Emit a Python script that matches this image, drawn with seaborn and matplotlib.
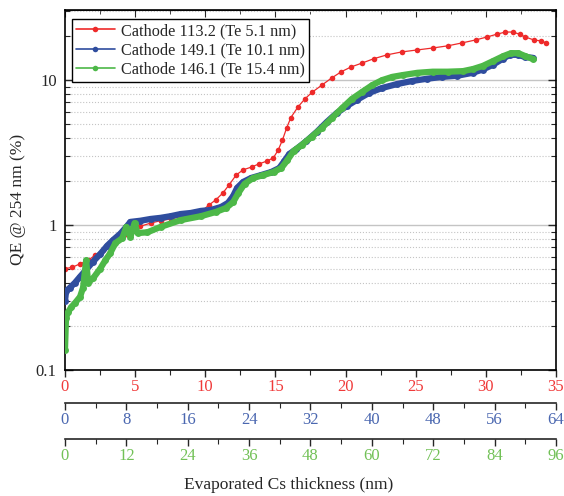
import numpy as np
import matplotlib
matplotlib.use('Agg')
import matplotlib.pyplot as plt
import seaborn as sns
from matplotlib.ticker import LogLocator, NullFormatter, MultipleLocator, FuncFormatter

# Datos (cada serie en las unidades de su propio eje x)
red_x = [0, 0.5, 1.08, 1.65, 2.15, 2.73, 3.23, 3.73, 4.23, 4.81, 5.38, 6.1, 6.81, 7.53,
         8.25, 8.97, 9.68, 10.25, 10.75, 11.25, 11.7, 12.2, 12.7, 13.3, 13.8, 14.4, 14.85,
         15.2, 15.5, 15.8, 16.1, 16.6, 17.1, 17.6, 18.3, 19.0, 19.7, 20.4, 21.2, 22.0,
         22.96, 24.0, 25.1, 26.2, 27.3, 28.3, 29.3, 30.1, 30.8, 31.4, 31.9, 32.4, 32.8,
         33.4, 33.9, 34.3]
red_y = [0.50, 0.51, 0.54, 0.57, 0.62, 0.67, 0.73, 0.79, 0.85, 0.92, 0.98, 1.03, 1.07, 1.10,
         1.14, 1.17, 1.23, 1.37, 1.49, 1.66, 1.89, 2.21, 2.40, 2.51, 2.63, 2.76, 2.90,
         3.29, 3.85, 4.66, 5.5, 6.5, 7.4, 8.2, 9.2, 10.3, 11.4, 12.3, 13.1, 14.0,
         14.9, 15.6, 16.1, 16.6, 17.2, 18.0, 18.9, 19.8, 20.7, 21.4, 21.4, 20.7, 19.8,
         18.9, 18.6, 18.0]

blue_x = [0, 0.15, 0.66, 1.31, 1.97, 2.75, 3.67, 4.59, 5.51, 6.30, 7.21, 8.00, 8.53, 9.84,
          11.15, 12.46, 13.77, 15.09, 16.40, 17.71, 19.02, 20.33, 21.25, 21.91, 22.43,
          23.22, 24.27, 25.58, 26.89, 27.94, 28.60, 29.25, 30.17, 31.48, 32.80, 34.11,
          35.42, 36.73, 38.04, 39.62, 41.32, 43.29, 45.26, 47.22, 49.19, 51.16, 53.13,
          54.44, 55.75, 57.06, 57.98, 59.03, 60.0, 61.0]
blue_y = [0.30, 0.35, 0.37, 0.40, 0.44, 0.49, 0.56, 0.63, 0.72, 0.79, 0.87, 0.97, 1.05, 1.07,
          1.10, 1.12, 1.15, 1.19, 1.21, 1.25, 1.27, 1.33, 1.42, 1.58, 1.80,
          1.98, 2.11, 2.21, 2.32, 2.47, 2.76, 3.09, 3.34, 3.79, 4.37, 5.12,
          5.91, 6.61, 7.28, 8.13, 8.80, 9.37, 9.84, 10.2, 10.5, 10.7, 11.2,
          11.8, 12.7, 14.0, 14.9, 14.9, 14.4, 14.2]

green_x = [0, 0.2, 0.59, 1.18, 1.97, 2.95, 3.54, 4.14, 4.53, 5.51, 6.89, 7.88, 8.86, 9.85,
           11.2, 12.0, 12.8, 13.6, 14.2, 16.1, 18.7, 22.6, 26.6, 29.5, 31.5, 32.9, 33.9,
           35.1, 36.8, 38.8, 40.8, 42.3, 43.5, 44.7, 46.3, 48.2, 50.2, 52.2, 54.2, 56.1,
           58.1, 60.1, 62.0, 64.0, 66.0, 68.9, 71.9, 74.8, 77.8, 79.8, 81.7, 83.7, 85.7,
           87.2, 88.6, 90.0, 91.6]
green_y = [0.138, 0.23, 0.25, 0.27, 0.29, 0.32, 0.37, 0.57, 0.40, 0.43, 0.50, 0.57, 0.64, 0.75,
           0.81, 0.97, 0.83, 1.03, 0.88, 0.89, 0.97, 1.08, 1.15, 1.23, 1.31, 1.44, 1.66,
           1.92, 2.11, 2.21, 2.32, 2.47, 2.80, 3.24, 3.56, 4.05, 4.66, 5.46, 6.41, 7.40,
           8.27, 9.22, 9.97, 10.5, 10.8, 11.2, 11.4, 11.4, 11.5, 11.9, 12.5, 13.5, 14.6,
           15.3, 15.3, 14.6, 13.9]

labels = ['Cathode 113.2 (Te 5.1 nm)', 'Cathode 149.1 (Te 10.1 nm)', 'Cathode 146.1 (Te 15.4 nm)']
c_red, c_blue, c_green = '#ee2a2a', '#2f4d9e', '#4db848'
t_red, t_blue, t_green = '#f03a3a', '#4a67b0', '#72c157'

sns.set_style('ticks')
plt.rcParams['font.family'] = ['Liberation Serif', 'DejaVu Serif']
plt.rcParams['font.size'] = 12

fig = plt.figure(figsize=(5.64, 4.96), dpi=100)
ax = fig.add_axes([0.1152, 0.254, 0.8706, 0.726])
ax.set_yscale('log')

axb = ax.twiny()
axg = ax.twiny()

sns.lineplot(x=red_x, y=red_y, ax=ax, color=c_red, marker='o', markersize=4,
             markeredgewidth=0, linewidth=0.9, label=labels[0])
sns.lineplot(x=blue_x, y=blue_y, ax=axb, color=c_blue, marker='o', markersize=5,
             markeredgewidth=0, linewidth=4.5, label=labels[1])
sns.lineplot(x=green_x, y=green_y, ax=axg, color=c_green, marker='o', markersize=5,
             markeredgewidth=0, linewidth=4.5, label=labels[2])

ax.set_ylim(0.1, 30.4)
ax.set_xlim(0, 35)
axb.set_xlim(0, 64)
axg.set_xlim(0, 96)

# eje y logaritmico
ax.yaxis.set_major_locator(LogLocator(base=10))
ax.yaxis.set_minor_locator(LogLocator(base=10, subs=np.arange(2, 10)))
ax.yaxis.set_minor_formatter(NullFormatter())
ax.yaxis.set_major_formatter(FuncFormatter(lambda v, p: f'{v:g}'))
ax.grid(which='major', axis='y', color='#c4c4c4', linewidth=1, linestyle='-')
ax.grid(which='minor', axis='y', color='#c4c4c4', linewidth=0.8, linestyle=':')
ax.grid(which='both', axis='x', visible=False)
ax.tick_params(axis='y', which='both', direction='in', left=True, right=True, labelsize=12, pad=6)
ax.tick_params(axis='y', which='major', length=6, width=1)
ax.tick_params(axis='y', which='minor', length=3.5, width=0.8)

# tres ejes x abajo
for a, maj, mino, col, off in [(ax, 5, 2.5, t_red, 0), (axb, 8, 4, t_blue, 24), (axg, 12, 6, t_green, 50)]:
    a.xaxis.set_major_locator(MultipleLocator(maj))
    a.xaxis.set_minor_locator(MultipleLocator(mino))
    a.xaxis.set_ticks_position('bottom')
    a.xaxis.set_label_position('bottom')
    a.tick_params(axis='x', which='both', direction='out', bottom=True, top=False,
                  labelcolor=col, labelsize=12, pad=1.5)
    a.tick_params(axis='x', which='major', length=5, width=1)
    a.tick_params(axis='x', which='minor', length=3.5, width=0.8)
    a.set_xlabel('')
    a.set_ylabel('')
    if a is not ax:
        a.spines['bottom'].set_position(('outward', off))
        for s in ['top', 'left', 'right']:
            a.spines[s].set_visible(False)
        a.yaxis.set_visible(False)

for s in ax.spines.values():
    s.set_color('black')
    s.set_linewidth(1.2)
for a in (axb, axg):
    a.spines['bottom'].set_linewidth(1.2)

top = ax.secondary_xaxis('top')
top.xaxis.set_major_locator(MultipleLocator(5))
top.xaxis.set_minor_locator(MultipleLocator(2.5))
top.tick_params(axis='x', which='both', direction='in', labeltop=False)
top.tick_params(axis='x', which='major', length=5)
top.tick_params(axis='x', which='minor', length=3)

handles = []
for a in (ax, axb, axg):
    if a.get_legend() is not None:
        a.get_legend().remove()
    h, l = a.get_legend_handles_labels()
    handles += h
leg = axg.legend(handles, labels, loc='upper left', bbox_to_anchor=(0.014, 0.975),
                 fancybox=False, framealpha=1, edgecolor='black', fontsize=11.7,
                 handlelength=2.4, handletextpad=0.35, labelspacing=0.2,
                 borderpad=0.25, borderaxespad=0)
leg.get_frame().set_linewidth(1)
for h in leg.legend_handles:
    h.set_linewidth(1.2)
    h.set_markersize(4)

fig.text(18 / 564, 1 - 199 / 496, 'QE @ 254 nm (%)', rotation=90, ha='center', va='center', fontsize=12.5)
fig.text(289 / 564, 1 - 485 / 496, 'Evaporated Cs thickness (nm)', ha='center', va='center', fontsize=12.5)

plt.savefig('out.png', dpi=100)
